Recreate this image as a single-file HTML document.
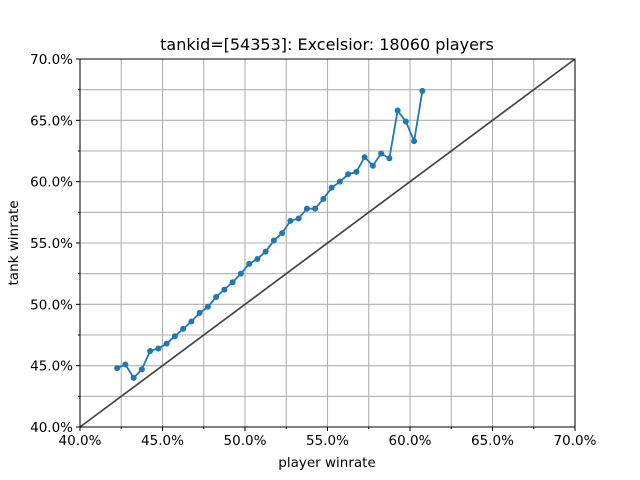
<!DOCTYPE html>
<html><head><meta charset="utf-8"><style>
html,body{margin:0;padding:0;background:#fff;}
svg{display:block;font-family:"DejaVu Sans","Liberation Sans",sans-serif;}
</style></head><body>
<svg id="chart" width="640" height="480">
<rect width="640" height="480" fill="#fff"/>
<g id="grid"></g><g id="plot"></g><g id="axes"></g>
<text x="327" y="50" text-anchor="middle" font-size="16">tankid=[54353]: Excelsior: 18060 players</text>
<text x="327" y="467" text-anchor="middle" font-size="13.5">player winrate</text>
<text x="18" y="243" text-anchor="middle" font-size="13.5" transform="rotate(-90 18 243)">tank winrate</text>
</svg>
<script>
const xVals=[42.25,42.75,43.25,43.75,44.25,44.75,45.25,45.75,46.25,46.75,47.25,47.75,48.25,48.75,49.25,49.75,50.25,50.75,51.25,51.75,52.25,52.75,53.25,53.75,54.25,54.75,55.25,55.75,56.25,56.75,57.25,57.75,58.25,58.75,59.25,59.75,60.25,60.75];
const yVals=[44.8,45.1,44.0,44.7,46.2,46.4,46.8,47.4,48.0,48.6,49.3,49.8,50.6,51.2,51.8,52.5,53.3,53.7,54.3,55.2,55.8,56.8,57.0,57.8,57.8,58.6,59.5,60.0,60.6,60.8,62.0,61.3,62.3,61.9,65.8,64.9,63.3,67.4];
const ticks=[40,45,50,55,60,65,70];
const tickLabels=["40.0%","45.0%","50.0%","55.0%","60.0%","65.0%","70.0%"];
const L=80,R=575,T=59,B=427;
const sx=v=>L+(v-40)/30*(R-L);
const sy=v=>B-(v-40)/30*(B-T);
const NS="http://www.w3.org/2000/svg";
function mk(tag,attrs,parent){const e=document.createElementNS(NS,tag);for(const k in attrs)e.setAttribute(k,attrs[k]);parent.appendChild(e);return e;}
const grid=document.getElementById('grid'),plot=document.getElementById('plot'),axes=document.getElementById('axes');
for(let v=40;v<=70.01;v+=2.5){
  const gx=mk('line',{x1:sx(v),x2:sx(v),y1:T,y2:B,stroke:'#b0b0b0','stroke-width':1.1},grid);
  
  
  const gy=mk('line',{x1:L,x2:R,y1:sy(v),y2:sy(v),stroke:'#b0b0b0','stroke-width':1.1},grid);
  
  
}
const diag=mk('line',{x1:sx(40),y1:sy(40),x2:sx(70),y2:sy(70),stroke:'#444','stroke-width':1.7},plot);


const pts=xVals.map((x,i)=>sx(x)+','+sy(yVals[i])).join(' ');
const line=mk('polyline',{points:pts,fill:'none',stroke:'#1f77b4','stroke-width':1.8},plot);


xVals.forEach((x,i)=>{
  const c=mk('circle',{cx:sx(x),cy:sy(yVals[i]),r:3,fill:'#1f77b4'},plot);
  
  
});
const frame=mk('rect',{x:L,y:T,width:R-L,height:B-T,fill:'none',stroke:'#000','stroke-width':1},axes);


for(let v=40;v<=70.01;v+=2.5){
  const major=Math.abs(v%5)<0.01;
  const len=major?4:2;
  mk('line',{x1:sx(v),x2:sx(v),y1:B,y2:B+len,stroke:'#000'},axes);
  mk('line',{x1:L,x2:L-len,y1:sy(v),y2:sy(v),stroke:'#000'},axes);
}
ticks.forEach((v,i)=>{
  const tx=mk('text',{x:sx(v),y:B+18,'text-anchor':'middle','font-size':13.5},axes);
  tx.textContent=tickLabels[i];
  
  
  const ty=mk('text',{x:L-7,y:sy(v)+5,'text-anchor':'end','font-size':13.5},axes);
  ty.textContent=tickLabels[i];
  
  
});
</script>
</body></html>
